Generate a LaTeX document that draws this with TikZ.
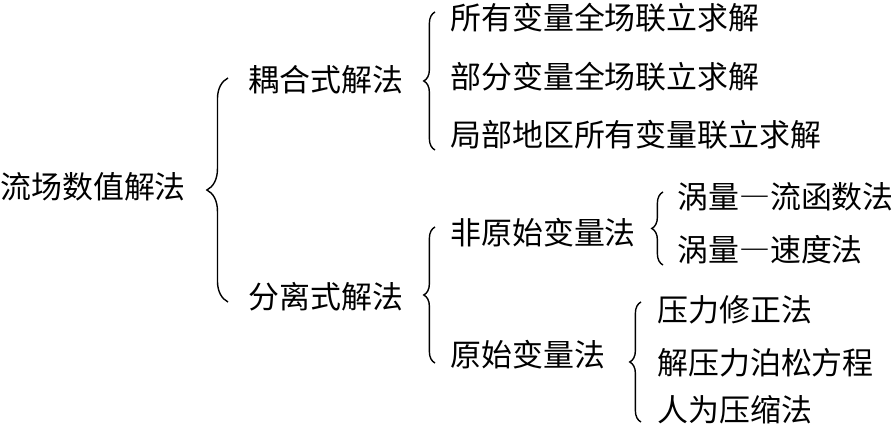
\documentclass[tikz,border=0pt]{standalone}
\usepackage{fontspec}
\setmainfont{Noto Sans CJK SC}
\newfontfamily\cjkfull[RawFeature=+fwid]{Noto Sans CJK SC}
\usetikzlibrary{decorations.pathreplacing}

\begin{document}
\begin{tikzpicture}[
    x=0.025cm, y=-0.025cm,
    item/.style={anchor=west, inner sep=0pt, font=\fontsize{22pt}{22pt}\selectfont},
    bigbrace/.style={decorate, decoration={brace, amplitude=15pt}, line width=1pt},
    smallbrace/.style={decorate, decoration={brace, amplitude=8pt}, line width=1pt}
]
\useasboundingbox (0,0) rectangle (894,425);

% root
\node[item] (root) at (0,187) {流场数值解法};
\draw[bigbrace] (228,302) -- (228,78);

% level 1
\node[item] (cpl) at (248,80) {耦合式解法};
\node[item] (sep) at (248,297) {分离式解法};

% coupled methods
\draw[smallbrace] (435,150) -- (435,12);
\node[item] (cpla) at (450,18) {所有变量全场联立求解};
\node[item] (cplb) at (450,77) {部分变量全场联立求解};
\node[item] (cplc) at (450,135) {局部地区所有变量联立求解};

% segregated methods
\draw[smallbrace] (435,363) -- (435,227);
\node[item] (nprim) at (450,233) {非原始变量法};
\node[item] (prim) at (450,355) {原始变量法};

% non-primitive variables
\draw[smallbrace] (663,265) -- (663,192);
\node[item] (npa) at (677,197) {涡量{\cjkfull —}流函数法};
\node[item] (npb) at (677,250) {涡量{\cjkfull —}速度法};

% primitive variables
\draw[smallbrace] (641,422) -- (641,302);
\node[item] (pa) at (657,310) {压力修正法};
\node[item] (pb) at (657,363) {解压力泊松方程};
\node[item] (pc) at (657,410) {人为压缩法};

\end{tikzpicture}
\end{document}
